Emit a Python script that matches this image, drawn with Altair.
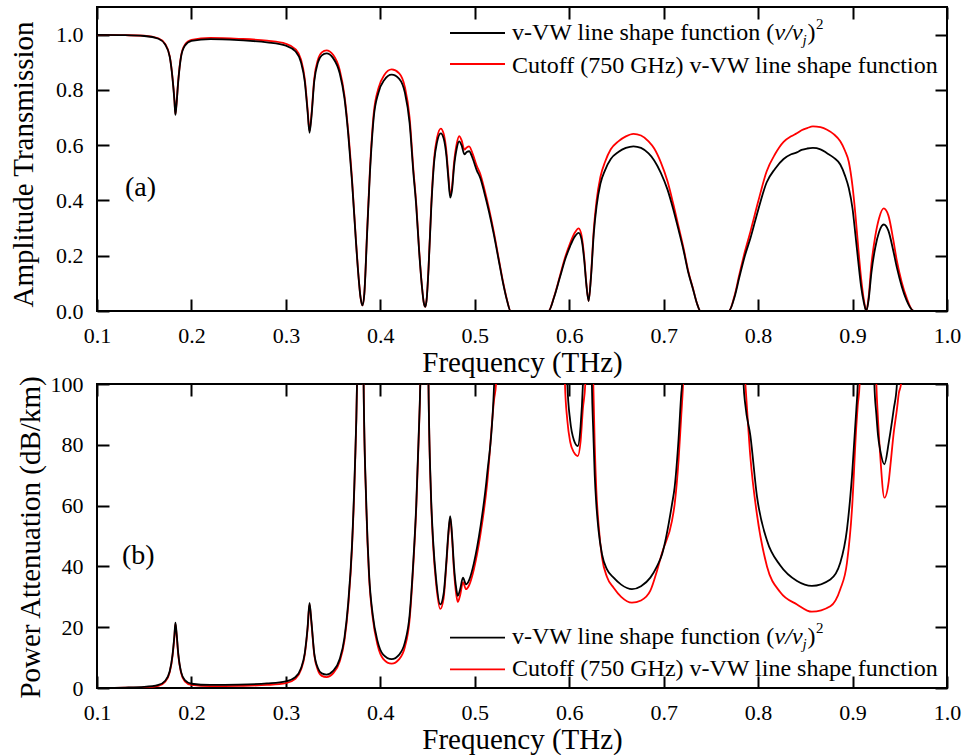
import altair as alt
import pandas as pd

# ---------------- data ----------------
freq_top = [0.100, 0.130, 0.150, 0.165, 0.172, 0.177, 0.180, 0.182, 0.183, 0.184,
            0.186, 0.189, 0.193, 0.200, 0.220, 0.250, 0.280, 0.300, 0.310, 0.316,
            0.320, 0.323, 0.325, 0.327, 0.330, 0.334, 0.338, 0.343, 0.350, 0.357,
            0.362, 0.366, 0.370, 0.374, 0.377, 0.379, 0.381, 0.383, 0.386, 0.389,
            0.393, 0.398, 0.404, 0.412, 0.420, 0.426, 0.431, 0.435, 0.438, 0.441,
            0.444, 0.446, 0.4475, 0.449, 0.451, 0.454, 0.457, 0.460, 0.464, 0.467,
            0.470, 0.472, 0.474, 0.476, 0.478, 0.481, 0.4835, 0.486, 0.489, 0.4915,
            0.494, 0.498, 0.502, 0.506, 0.510, 0.515, 0.520, 0.525, 0.530, 0.534,
            0.538, 0.578, 0.584, 0.590, 0.596, 0.601, 0.606, 0.610, 0.613, 0.616,
            0.618, 0.6205, 0.623, 0.626, 0.629, 0.633, 0.638, 0.644, 0.652, 0.660,
            0.668, 0.676, 0.684, 0.690, 0.697, 0.704, 0.710, 0.716, 0.721, 0.726,
            0.731, 0.735, 0.739, 0.769, 0.775, 0.780, 0.786, 0.792, 0.800, 0.809,
            0.818, 0.827, 0.835, 0.841, 0.846, 0.852, 0.858, 0.866, 0.873, 0.880,
            0.887, 0.892, 0.896, 0.900, 0.903, 0.906, 0.909, 0.912, 0.9146, 0.917,
            0.920, 0.924, 0.928, 0.933, 0.938, 0.943, 0.947, 0.952, 0.957, 0.9647,
            1.000]

amp_vvw = [0.999, 0.998, 0.995, 0.985, 0.965, 0.920, 0.840, 0.760, 0.710, 0.740,
           0.830, 0.920, 0.960, 0.977, 0.984, 0.980, 0.972, 0.960, 0.940, 0.900,
           0.830, 0.720, 0.645, 0.700, 0.830, 0.900, 0.925, 0.932, 0.915, 0.860,
           0.770, 0.640, 0.470, 0.260, 0.120, 0.050, 0.020, 0.060, 0.280, 0.500,
           0.700, 0.790, 0.835, 0.855, 0.840, 0.790, 0.680, 0.500, 0.380, 0.220,
           0.090, 0.030, 0.015, 0.040, 0.150, 0.380, 0.540, 0.610, 0.643, 0.625,
           0.560, 0.480, 0.410, 0.440, 0.520, 0.590, 0.614, 0.600, 0.567, 0.575,
           0.578, 0.550, 0.510, 0.480, 0.430, 0.360, 0.280, 0.190, 0.100, 0.040,
           0.000, 0.000, 0.050, 0.120, 0.190, 0.235, 0.270, 0.283, 0.260, 0.180,
           0.100, 0.036, 0.120, 0.280, 0.380, 0.460, 0.510, 0.550, 0.575, 0.590,
           0.596, 0.590, 0.570, 0.545, 0.500, 0.440, 0.370, 0.290, 0.220, 0.140,
           0.080, 0.030, 0.000, 0.000, 0.050, 0.120, 0.200, 0.265, 0.365, 0.465,
           0.515, 0.550, 0.567, 0.574, 0.583, 0.588, 0.590, 0.585, 0.571, 0.555,
           0.530, 0.490, 0.445, 0.370, 0.277, 0.180, 0.090, 0.030, 0.000, 0.040,
           0.140, 0.229, 0.285, 0.313, 0.290, 0.220, 0.156, 0.090, 0.040, 0.000,
           0.000]

amp_cutoff = [0.999, 0.998, 0.996, 0.987, 0.967, 0.922, 0.843, 0.763, 0.713, 0.743,
              0.833, 0.923, 0.963, 0.981, 0.988, 0.985, 0.978, 0.967, 0.948, 0.910,
              0.840, 0.730, 0.652, 0.708, 0.840, 0.910, 0.936, 0.943, 0.927, 0.872,
              0.780, 0.650, 0.478, 0.265, 0.122, 0.050, 0.020, 0.061, 0.288, 0.512,
              0.715, 0.806, 0.853, 0.874, 0.860, 0.810, 0.700, 0.512, 0.390, 0.225,
              0.092, 0.030, 0.015, 0.041, 0.153, 0.390, 0.553, 0.626, 0.660, 0.642,
              0.576, 0.494, 0.420, 0.452, 0.535, 0.607, 0.633, 0.618, 0.584, 0.592,
              0.596, 0.567, 0.526, 0.494, 0.443, 0.371, 0.289, 0.196, 0.104, 0.042,
              0.000, 0.000, 0.052, 0.125, 0.198, 0.246, 0.284, 0.299, 0.274, 0.190,
              0.105, 0.037, 0.125, 0.295, 0.400, 0.485, 0.540, 0.585, 0.614, 0.632,
              0.641, 0.635, 0.614, 0.588, 0.538, 0.470, 0.390, 0.302, 0.228, 0.145,
              0.082, 0.031, 0.000, 0.000, 0.055, 0.130, 0.215, 0.289, 0.395, 0.505,
              0.568, 0.612, 0.632, 0.643, 0.654, 0.662, 0.668, 0.665, 0.656, 0.640,
              0.614, 0.580, 0.540, 0.450, 0.350, 0.230, 0.120, 0.040, 0.000, 0.050,
              0.170, 0.270, 0.335, 0.371, 0.345, 0.260, 0.180, 0.105, 0.050, 0.000,
              0.000]

freq_bot = [0.100, 0.130, 0.150, 0.165, 0.172, 0.177, 0.180, 0.182, 0.183, 0.184,
            0.186, 0.189, 0.193, 0.200, 0.220, 0.250, 0.280, 0.300, 0.310, 0.316,
            0.320, 0.323, 0.325, 0.327, 0.330, 0.334, 0.338, 0.343, 0.350, 0.357,
            0.362, 0.366, 0.370, 0.373, 0.3753, 0.378, 0.381, 0.3823, 0.385, 0.388,
            0.392, 0.397, 0.403, 0.412, 0.420, 0.426, 0.431, 0.435, 0.438, 0.4405,
            0.4423, 0.4475, 0.451, 0.4535, 0.456, 0.459, 0.4635, 0.467, 0.470, 0.472,
            0.474, 0.476, 0.478, 0.4805, 0.482, 0.4845, 0.4875, 0.4907, 0.494, 0.499,
            0.506, 0.513, 0.5205, 0.5225, 0.530, 0.590, 0.5955, 0.598, 0.601, 0.605,
            0.609, 0.612, 0.6145, 0.617, 0.620, 0.624, 0.6255, 0.627, 0.6287, 0.631,
            0.6347, 0.640, 0.647, 0.655, 0.6664, 0.676, 0.6859, 0.6929, 0.6983, 0.7088,
            0.7116, 0.7158, 0.7187, 0.7195, 0.7205, 0.726, 0.780, 0.7846, 0.7865, 0.7918,
            0.7988, 0.8094, 0.8235, 0.8412, 0.857, 0.8765, 0.887, 0.8941, 0.8994, 0.904,
            0.9055, 0.9075, 0.912, 0.921, 0.9231, 0.9252, 0.927, 0.9294, 0.9337, 0.9383,
            0.940, 0.9436, 0.947, 0.949, 0.9513, 0.955, 1.000]

att_vvw = [0.05, 0.15, 0.35, 1.0, 2.3, 5.5, 11.0, 17.5, 21.5, 19.0,
           11.5, 5.3, 2.6, 1.4, 1.0, 1.1, 1.5, 2.2, 3.6, 6.5,
           11.5, 20.0, 28.0, 22.0, 11.5, 6.5, 4.8, 4.4, 5.6, 9.5,
           16.5, 28.0, 47.0, 72.0, 100.0, 180.0, 250.0, 100.0, 62.0, 38.0,
           24.0, 15.5, 11.0, 9.5, 11.0, 15.0, 24.0, 42.0, 60.0, 82.0,
           100.0, 260.0, 100.0, 65.0, 48.0, 36.0, 27.5, 31.0, 42.0, 51.0,
           56.5, 50.0, 40.0, 32.5, 30.3, 32.5, 36.3, 34.1, 35.5, 41.0,
           53.0, 70.0, 100.0, 125.0, 260.0, 260.0, 150.0, 100.0, 88.0, 81.5,
           79.6, 86.0, 100.0, 130.0, 260.0, 100.0, 84.0, 70.0, 60.4, 52.0,
           44.0, 39.0, 36.3, 34.0, 32.5, 33.5, 36.3, 40.0, 44.0, 60.4,
           66.0, 82.0, 97.0, 100.0, 110.0, 260.0, 260.0, 100.0, 93.0, 83.0,
           63.0, 48.5, 40.3, 35.2, 33.6, 35.7, 41.2, 52.2, 69.7, 91.7,
           100.0, 130.0, 260.0, 260.0, 100.0, 90.0, 83.0, 78.0, 73.6, 80.7,
           84.0, 91.7, 100.0, 130.0, 200.0, 260.0, 260.0]

att_cutoff = [0.03, 0.08, 0.2, 0.7, 2.0, 5.2, 10.6, 17.0, 21.0, 18.5,
              11.0, 5.0, 2.2, 1.0, 0.6, 0.7, 1.0, 1.6, 3.0, 6.0,
              11.0, 19.5, 27.5, 21.5, 11.0, 5.8, 4.0, 3.6, 4.8, 8.7,
              15.6, 27.0, 46.0, 71.0, 100.0, 180.0, 250.0, 100.0, 61.0, 37.0,
              23.0, 14.2, 9.6, 8.0, 9.5, 13.5, 22.5, 41.0, 59.0, 81.0,
              100.0, 260.0, 100.0, 64.0, 46.5, 34.5, 26.0, 29.5, 41.0, 50.0,
              56.0, 49.0, 38.5, 30.5, 28.3, 30.5, 34.8, 32.5, 33.8, 39.0,
              50.5, 67.0, 95.0, 100.0, 260.0, 260.0, 100.0, 88.0, 81.0, 77.5,
              76.3, 81.0, 92.0, 100.0, 260.0, 130.0, 100.0, 80.0, 65.0, 54.0,
              43.0, 36.5, 33.0, 30.0, 28.1, 28.8, 32.0, 38.5, 44.5, 55.0,
              60.4, 75.0, 90.0, 94.0, 100.0, 260.0, 260.0, 108.0, 100.0, 76.0,
              57.0, 40.0, 31.5, 27.5, 25.1, 26.9, 32.5, 41.2, 58.8, 86.2,
              93.0, 100.0, 260.0, 260.0, 130.0, 100.0, 88.0, 76.0, 62.6, 68.0,
              73.0, 84.0, 91.7, 97.0, 100.0, 260.0, 260.0]

assert len(freq_top) == len(amp_vvw) == len(amp_cutoff)
assert len(freq_bot) == len(att_vvw) == len(att_cutoff)

x_ticks = [0.1, 0.2, 0.3, 0.4, 0.5, 0.6, 0.7, 0.8, 0.9, 1.0]
amp_ticks = [0.0, 0.2, 0.4, 0.6, 0.8, 1.0]
att_ticks = [0, 20, 40, 60, 80, 100]

label_vvw = "v-VW line shape function ("
label_cut = "Cutoff (750 GHz) v-VW line shape function"

# ---------------- styling ----------------
FONT = "Liberation Serif"
W, H = 850, 304
TICK = 12
LABEL_SIZE = 22
TITLE_SIZE = 29


def text_layer(txt, x, y, size=24, style="normal"):
    return alt.Chart(pd.DataFrame({"t": [txt]})).mark_text(
        align="left", baseline="alphabetic", font=FONT, fontSize=size,
        fontStyle=style, color="black"
    ).encode(text="t:N", x=alt.value(x), y=alt.value(y))


def rule_layer(x1, x2, y, color):
    return alt.Chart(pd.DataFrame({"a": [0]})).mark_rule(
        color=color, strokeWidth=1.8
    ).encode(x=alt.value(x1), x2=alt.value(x2), y=alt.value(y))


def legend(line_y1, line_y2, base1, base2):
    x0 = 415
    return [
        rule_layer(353, 408, line_y1, "black"),
        rule_layer(353, 408, line_y2, "#ff0000"),
        text_layer(label_vvw, x0, base1),
        text_layer("ν/ν", x0 + 262.6, base1, style="italic"),
        text_layer("j", x0 + 290.6, base1 + 5, size=15, style="italic"),
        text_layer(")", x0 + 295.5, base1),
        text_layer("2", x0 + 304, base1 - 11, size=15),
        text_layer(label_cut, x0, base2),
    ]


def panel(freq, black, red, ydom, yticks, yfmt, ytitle, title_x, title_y,
          tag, tag_x, tag_y, leg):
    xscale = alt.Scale(domain=[0.1, 1.0], nice=False, zero=False)
    yscale = alt.Scale(domain=ydom, nice=False, zero=False)
    ax_bottom = alt.Axis(
        orient="bottom", values=x_ticks, format=".1f", domain=False,
        tickSize=TICK, tickWidth=2, tickColor="black", offset=-TICK,
        labelFont=FONT, labelFontSize=LABEL_SIZE, labelColor="black", labelPadding=14,
        labelFlush=False, labelOverlap=False, grid=False,
        title="Frequency (THz)", titleFont=FONT, titleFontSize=TITLE_SIZE,
        titleFontWeight="normal", titleColor="black",
        titleBaseline="alphabetic", titleY=60 + TICK)
    ax_top = alt.Axis(
        orient="top", values=x_ticks, labels=False, domain=False,
        tickSize=TICK, tickWidth=2, tickColor="black", offset=-TICK,
        grid=False, title=None)
    ax_left = alt.Axis(
        orient="left", values=yticks, format=yfmt, domain=False,
        tickSize=TICK, tickWidth=2, tickColor="black", offset=-TICK,
        labelFont=FONT, labelFontSize=LABEL_SIZE, labelColor="black", labelPadding=14,
        labelFlush=False, labelOverlap=False, grid=False,
        title=ytitle, titleFont=FONT, titleFontSize=TITLE_SIZE,
        titleFontWeight="normal", titleColor="black",
        titleBaseline="alphabetic", titleX=title_x - TICK, titleY=title_y)
    ax_right = alt.Axis(
        orient="right", values=yticks, labels=False, domain=False,
        tickSize=TICK, tickWidth=2, tickColor="black", offset=-TICK,
        grid=False, title=None)

    df_black = pd.DataFrame({"f": freq, "v": black})
    df_red = pd.DataFrame({"f": freq, "v": red})

    red_line = alt.Chart(df_red).mark_line(
        color="#ff0000", strokeWidth=1.8, interpolate="monotone", clip=True
    ).encode(x=alt.X("f:Q", scale=xscale, axis=ax_top),
             y=alt.Y("v:Q", scale=yscale, axis=ax_right))
    black_line = alt.Chart(df_black).mark_line(
        color="black", strokeWidth=1.8, interpolate="monotone", clip=True
    ).encode(x=alt.X("f:Q", scale=xscale, axis=ax_bottom),
             y=alt.Y("v:Q", scale=yscale, axis=ax_left))

    layers = [red_line, black_line] + leg + [text_layer(tag, tag_x, tag_y, size=28)]
    return alt.layer(*layers).resolve_axis(x="independent", y="independent").properties(
        width=W, height=H)


top = panel(freq_top, amp_vvw, amp_cutoff, [0, 1.1], amp_ticks, ".1f",
            "Amplitude Transmission", -65, 157, "(a)", 28, 189,
            legend(26, 57, 33.3, 65.7))
bottom = panel(freq_bot, att_vvw, att_cutoff, [0, 100], att_ticks, "d",
               "Power Attenuation (dB/km)", -58, 153, "(b)", 25, 180,
               legend(253.7, 285.3, 260.3, 292))

chart = alt.vconcat(top, bottom, spacing=73, bounds="flush").properties(
    padding={"left": 8, "top": 5, "right": 5, "bottom": 0}
).configure_view(stroke="black", strokeWidth=2)

chart.save("out.html", embed_options={"renderer": "svg", "actions": False})
